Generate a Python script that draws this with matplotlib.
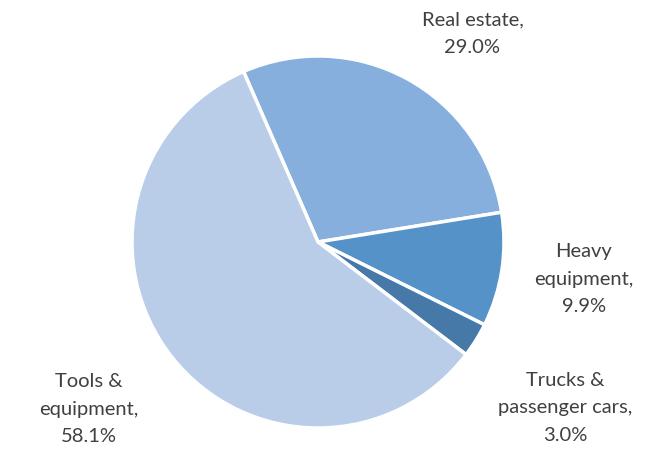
import matplotlib.pyplot as plt

labels = ["Real estate,\n29.0%", "Heavy\nequipment,\n9.9%",
          "Trucks &\npassenger cars,\n3.0%", "Tools &\nequipment,\n58.1%"]
shares = [29.0, 9.9, 3.0, 58.1]
colors = ["#86afdd", "#5592c8", "#4679a8", "#b9cde8"]

plt.rcParams['font.family'] = ['Lato', 'DejaVu Sans']

fig = plt.figure(figsize=(6.59, 4.55), dpi=100)
ax = fig.add_axes([0, 0, 1, 1])

wedges, texts = ax.pie(shares, colors=colors, startangle=113.6, counterclock=False,
                       radius=1.0, center=(0, 0),
                       wedgeprops=dict(edgecolor="white", linewidth=2.5))

# label positions (data coords, radius = 1)
pos = [(0.83, 1.12), (1.43, -0.20), (1.33, -0.89), (-1.23, -0.90)]
for (x, y), lab in zip(pos, labels):
    ax.text(x, y, lab, ha="center", va="center", fontsize=14.5, color="#404040",
            linespacing=1.75)

# pixel geometry: center (318, 242), radius 186 on 659x455
r = 186.0
ax.set_xlim(-318 / r, (659 - 318) / r)
ax.set_ylim(-(455 - 242) / r, 242 / r)
ax.set_aspect("equal")
ax.axis("off")

fig.savefig("out.png", dpi=100)
